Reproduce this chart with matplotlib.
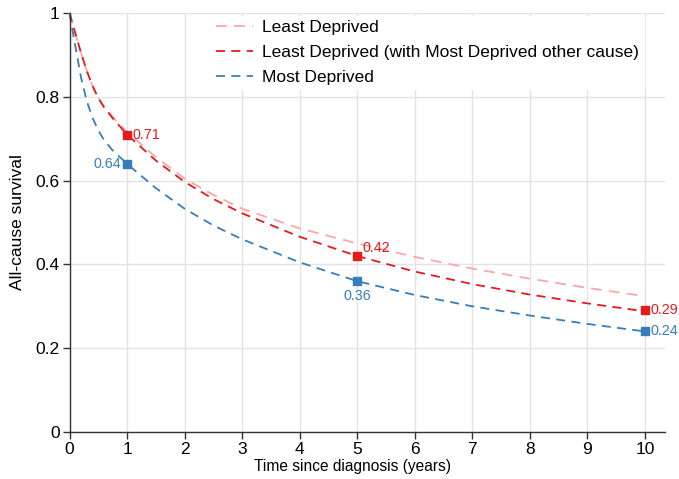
import matplotlib
matplotlib.use("Agg")
import matplotlib.pyplot as plt

plt.rcParams['font.family'] = ['Liberation Sans', 'DejaVu Sans']

# Data
t = [0, 0.05, 0.1, 0.2, 0.3, 0.4, 0.5, 0.6, 0.75, 1, 1.5, 2, 2.5, 3, 4, 5, 6, 7, 8, 9, 10]
least = [1.0, 0.976, 0.952, 0.905, 0.862, 0.826, 0.798, 0.777, 0.752, 0.716, 0.656, 0.605, 0.566, 0.533, 0.486, 0.45, 0.418, 0.39, 0.366, 0.344, 0.324]
least_mdoc = [1.0, 0.976, 0.952, 0.905, 0.862, 0.826, 0.797, 0.775, 0.749, 0.71, 0.648, 0.597, 0.556, 0.522, 0.466, 0.42, 0.383, 0.353, 0.328, 0.307, 0.288]
most = [1.0, 0.96, 0.922, 0.846, 0.79, 0.75, 0.72, 0.697, 0.672, 0.64, 0.582, 0.533, 0.493, 0.46, 0.405, 0.36, 0.327, 0.3, 0.278, 0.258, 0.24]

mark_t = [1, 5, 10]
mark_red = [0.71, 0.42, 0.29]
mark_blue = [0.64, 0.36, 0.24]

labels = ["Least Deprived", "Least Deprived (with Most Deprived other cause)", "Most Deprived"]
xticks = list(range(0, 11))
yticks = [0, 0.2, 0.4, 0.6, 0.8, 1]

c_pink = '#f6a8a8'
c_red = '#e41a1c'
c_blue = '#377eb8'

W, H = 679, 479
fig = plt.figure(figsize=(W / 100, H / 100), dpi=100)
ax = fig.add_axes([69.5 / W, 1 - 432 / H, (665 - 69.5) / W, (432 - 13) / H])

ax.plot(t, least, color=c_pink, lw=1.3, dashes=(6, 4), label=labels[0], clip_on=False)
ax.plot(t, least_mdoc, color=c_red, lw=1.3, dashes=(5, 3.5), label=labels[1], clip_on=False)
ax.plot(t, most, color=c_blue, lw=1.3, dashes=(5, 3.5), label=labels[2], clip_on=False)

ax.plot(mark_t, mark_red, 's', color=c_red, ms=6, zorder=5, clip_on=False)
ax.plot(mark_t, mark_blue, 's', color=c_blue, ms=6, zorder=5, clip_on=False)

fs = 10.3
ax.annotate(f"{mark_red[0]:.2f}", (mark_t[0], mark_red[0]), xytext=(4, 0), textcoords='offset points',
            color=c_red, fontsize=fs, va='center', ha='left')
ax.annotate(f"{mark_red[1]:.2f}", (mark_t[1], mark_red[1]), xytext=(4, 6), textcoords='offset points',
            color=c_red, fontsize=fs, va='center', ha='left')
ax.annotate(f"{mark_red[2]:.2f}", (mark_t[2], mark_red[2]), xytext=(4, 0), textcoords='offset points',
            color=c_red, fontsize=fs, va='center', ha='left')
ax.annotate(f"{mark_blue[0]:.2f}", (mark_t[0], mark_blue[0]), xytext=(-4.5, 0), textcoords='offset points',
            color=c_blue, fontsize=fs, va='center', ha='right')
ax.annotate(f"{mark_blue[1]:.2f}", (mark_t[1], mark_blue[1]), xytext=(0, -11), textcoords='offset points',
            color=c_blue, fontsize=fs, va='center', ha='center')
ax.annotate(f"{mark_blue[2]:.2f}", (mark_t[2], mark_blue[2]), xytext=(4, 0), textcoords='offset points',
            color=c_blue, fontsize=fs, va='center', ha='left')

ax.set_xlim(0, 10.35)
ax.set_ylim(0, 1)
ax.set_xticks(xticks)
ax.set_xticklabels([str(v) for v in xticks])
ax.set_yticks(yticks)
ax.set_yticklabels(['0', '0.2', '0.4', '0.6', '0.8', '1'])
ax.grid(True, color='#e3e3e3', lw=1)
ax.set_axisbelow(True)
for s in ['top', 'right']:
    ax.spines[s].set_visible(False)
for s in ['left', 'bottom']:
    ax.spines[s].set_color('#333333')
    ax.spines[s].set_linewidth(1.0)
ax.tick_params(axis='both', direction='out', length=5, width=1, color='#333333',
               labelsize=12.5, labelcolor='black', pad=2)
ax.set_xlabel("Time since diagnosis (years)", fontsize=11.2)
ax.xaxis.set_label_coords((352.5 - 69.5) / (665 - 69.5), -(467 - 432) / (432 - 13), transform=ax.transAxes)
ax.xaxis.label.set_va('center')
ax.set_ylabel("All-cause survival", fontsize=12.5, labelpad=8)

leg = ax.legend(loc='upper left', bbox_to_anchor=(212 / W, 1 - 16 / H), bbox_transform=fig.transFigure,
                frameon=True, fancybox=False, edgecolor='white', framealpha=1, fontsize=12.5,
                handlelength=2.1, handletextpad=0.55, borderpad=0.25, borderaxespad=0.0,
                labelspacing=0.55)

fig.savefig("out.png", dpi=100)
